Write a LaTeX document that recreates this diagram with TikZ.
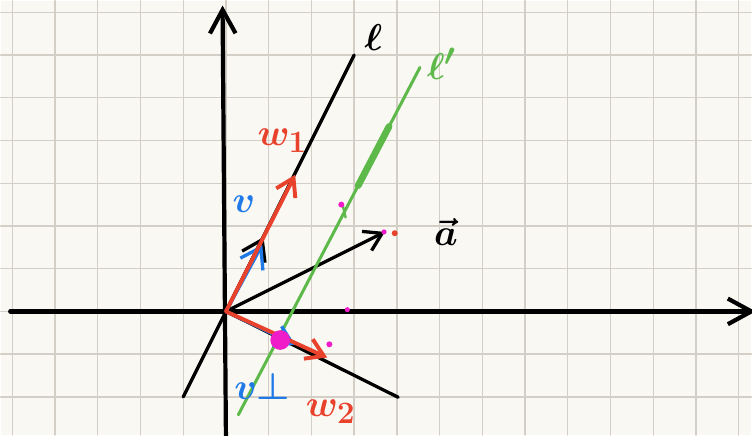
\documentclass[tikz,border=0pt]{standalone}
\usepackage{amsmath}
\usepackage{xcolor}
\usetikzlibrary{arrows.meta,calc}
\definecolor{paper}{HTML}{FAF8F3}
\definecolor{gridgray}{HTML}{D3CEC6}
\definecolor{inkred}{HTML}{E8412C}
\definecolor{inkblue}{HTML}{1F7AE8}
\definecolor{inkgreen}{HTML}{5DB94A}
\definecolor{inkpink}{HTML}{F01CC8}

\begin{document}
\begin{tikzpicture}[>={Straight Barb[length=4mm,width=5mm]},line cap=round,
 every node/.style={font=\fontsize{32}{34}\selectfont\boldmath,inner sep=1pt},
 ink/.style={line width=2.2pt},
 axis/.style={line width=2.8pt,-{Straight Barb[length=5.5mm,width=6mm]}}]
    \fill[paper] (-5.273,-2.891) rectangle (12.297,7.273);
    \draw[gridgray,line width=0.9pt] (-5.273,-2.891) grid (12.297,7.273);
    \useasboundingbox (-5.273,-2.891) rectangle (12.297,7.273);
    \coordinate (O) at (0,0);
    \coordinate (ybot) at (0,-3);
    \coordinate (ytop) at (-0.08,7.16);
    \coordinate (xleft) at (-5.05,0);
    \coordinate (xright) at (12.4,0);
    \coordinate (l1) at (-1,-2);
    \coordinate (l2) at (3,6);
    \coordinate (g1) at (0.29,-2.42);
    \coordinate (g2) at (4.54,5.71);
    \coordinate (atip) at (3.72,1.86);
    \coordinate (p2) at (4.03,-2.01);
    \coordinate (utip) at (0.88,1.74);
    \coordinate (vtip) at (0.85,1.56);
    \coordinate (w1tip) at (1.62,3.2);
    \coordinate (vptip) at (1.62,-0.78);
    \coordinate (w2tip) at (2.37,-1.08);
    \draw[axis] (ybot) -- (ytop);
    \draw[axis] (xleft) -- (xright);
    \draw[ink] (l1) -- (l2);
    \draw[ink] (O) -- (p2);
    \draw[ink,->] (O) -- (atip);
    \draw[inkgreen,line width=2pt] (g1) -- (g2);
    \draw[inkgreen,line width=4.5pt] ($(g1)!0.66!(g2)$) -- ($(g1)!0.83!(g2)$);
    \draw[inkgreen,line width=1.6pt] (2.74,2.46) -- (2.8,2.2);
    \draw[ink,-{Straight Barb[length=4.5mm,width=6mm]}] (O) -- (utip);
    \draw[inkblue,ink,-{Straight Barb[length=4.5mm,width=6mm]}] (O) -- (vtip);
    \draw[inkblue,ink,->] (O) -- (vptip);
    \draw[inkred,line width=2.6pt,->] (O) -- (w1tip);
    \draw[inkred,line width=2.6pt,->] (O) -- (w2tip);
    \fill[inkpink] (1.27,-0.67) circle (0.23);
    \fill[inkpink] (2.7,2.5) circle (0.07);
    \fill[inkpink] (3.7,1.86) circle (0.06);
    \fill[inkpink] (2.84,0.04) circle (0.06);
    \fill[inkpink] (2.42,-0.77) circle (0.07);
    \fill[inkred] (3.95,1.83) circle (0.07);
    \node[inkred] (w1lbl) at (1.32,4.0) {$w_1$};
    \node[inkblue] (vlbl) at (0.42,2.5) {$v$};
    \node (llbl) at (3.45,6.4) {$\ell$};
    \node[inkgreen] (lplbl) at (5.05,5.8) {$\ell'$};
    \node (albl) at (5.15,1.85) {$\vec{a}$};
    \node[inkblue] (vplbl) at (0.85,-1.75) {$v{\perp}$};
    \node[inkred] (w2lbl) at (2.45,-2.35) {$w_2$};
\end{tikzpicture}
\end{document}
